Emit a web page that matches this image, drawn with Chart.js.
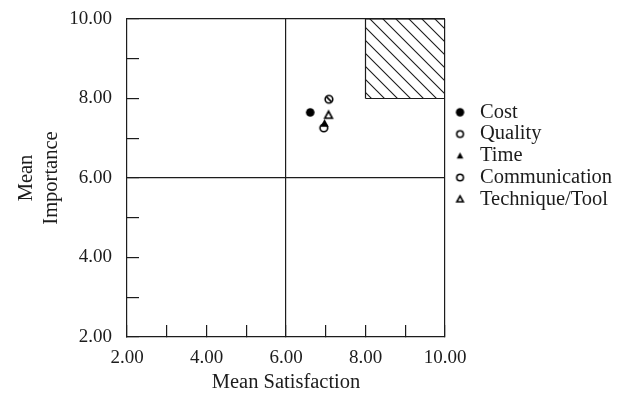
<!DOCTYPE html>
<html>
<head>
<meta charset="utf-8">
<script src="https://cdn.jsdelivr.net/npm/chart.js@4.4.1/dist/chart.umd.min.js"></script>
<style>
    html, body { margin: 0; padding: 0; background: #fff; }
    #wrap { position: relative; width: 629px; height: 397px; }
</style>
</head>
<body>
<div id="wrap"><canvas id="chart"></canvas></div>
<script>
const seriesNames = ["Cost", "Quality", "Time", "Communication", "Technique/Tool"];
const meanSatisfaction = [6.61, 6.95, 6.97, 7.08, 7.07];
const meanImportance = [7.65, 7.26, 7.37, 7.98, 7.58];
const markerKinds = ["dot", "ring", "tri", "ringSlash", "triOpen"];

const labelledTicks = [2, 4, 6, 8, 10];
const tickLabels = ["2.00", "4.00", "6.00", "8.00", "10.00"];
const crossLines = [6, 10];

// shaded "target" corner of the quadrant chart
const targetX = [8, 8, 10, 10];
const targetY = [8, 10, 10, 8];
const targetBaseX = [8, 10];
const targetBaseY = [8, 8];

const INK = "#1c1c1c";
const FONT = "'Liberation Serif', 'Times New Roman', serif";

function makeMarker(kind, r, shift) {
    const size = Math.ceil((r + 2 + Math.abs(shift)) * 2);
    const c = document.createElement("canvas");
    c.width = size;
    c.height = size;
    const ctx = c.getContext("2d");
    const cx = size / 2 + shift;
    const cy = size / 2;
    ctx.strokeStyle = "#000";
    ctx.fillStyle = "#000";
    ctx.lineWidth = 1.6;
    ctx.beginPath();
    if (kind === "tri" || kind === "triOpen") {
        ctx.moveTo(cx, cy - r);
        ctx.lineTo(cx + r * 0.95, cy + r * 0.75);
        ctx.lineTo(cx - r * 0.95, cy + r * 0.75);
        ctx.closePath();
    } else {
        ctx.arc(cx, cy, r, 0, Math.PI * 2);
    }
    if (kind === "dot" || kind === "tri") ctx.fill();
    else ctx.stroke();
    if (kind === "ringSlash") {
        ctx.beginPath();
        ctx.moveTo(cx - r * 0.7, cy - r * 0.7);
        ctx.lineTo(cx + r * 0.7, cy + r * 0.7);
        ctx.stroke();
    }
    return c;
}

function makeHatch() {
    const s = 13;
    const c = document.createElement("canvas");
    c.width = s;
    c.height = s;
    const ctx = c.getContext("2d");
    ctx.strokeStyle = INK;
    ctx.lineWidth = 1.1;
    ctx.beginPath();
    ctx.moveTo(0, 0);
    ctx.lineTo(s, s);
    ctx.moveTo(-2, s - 2);
    ctx.lineTo(2, s + 2);
    ctx.moveTo(s - 2, -2);
    ctx.lineTo(s + 2, 2);
    ctx.stroke();
    return document.createElement("canvas").getContext("2d").createPattern(c, "repeat");
}

const dataRadius = [4.3, 3.8, 4.4, 3.8, 4];
const legendRadius = [4.2, 3.3, 3.5, 3.3, 3.4];
const dataMarkers = markerKinds.map((k, i) => makeMarker(k, dataRadius[i], 0));
const legendMarkers = markerKinds.map((k, i) =>
    makeMarker(k === "ringSlash" ? "ring" : k, legendRadius[i], 2)
);

const pointSets = seriesNames.map((name, i) => ({
    label: name,
    data: [{ x: meanSatisfaction[i], y: meanImportance[i] }],
    pointStyle: dataMarkers[i],
    pointRadius: 4,
    order: i,
}));

const tickLabel = (v) => {
    const k = labelledTicks.indexOf(v);
    return k < 0 ? "" : tickLabels[k];
};
const gridColor = (ctx) =>
    ctx.tick && crossLines.includes(ctx.tick.value) ? INK : "rgba(0,0,0,0)";

const axisBase = {
    type: "linear",
    min: 2,
    max: 10,
    border: { display: true, color: INK, width: 1.2 },
    grid: {
        color: gridColor,
        tickColor: INK,
        lineWidth: 1.2,
        tickWidth: 1.2,
        tickLength: -12,
    },
};

const chart = new Chart(document.getElementById("chart"), {
    type: "scatter",
    data: {
        datasets: [
            ...pointSets,
            {
                type: "line",
                label: "target",
                data: targetX.map((x, i) => ({ x, y: targetY[i] })),
                borderColor: INK,
                borderWidth: 1.2,
                backgroundColor: makeHatch(),
                fill: { value: 8 },
                pointRadius: 0,
                order: 20,
            },
            {
                type: "line",
                label: "target base",
                data: targetBaseX.map((x, i) => ({ x, y: targetBaseY[i] })),
                borderColor: INK,
                borderWidth: 1.2,
                pointRadius: 0,
                fill: false,
                order: 21,
            },
        ],
    },
    options: {
        responsive: true,
        maintainAspectRatio: false,
        animation: false,
        layout: { padding: { top: 19, right: 6.9, bottom: 0, left: 0 } },
        plugins: {
            tooltip: { enabled: false },
            legend: {
                position: "right",
                align: "start",
                maxWidth: 220,
                title: {
                    display: true,
                    text: "",
                    font: { size: 10 },
                    padding: { top: 69.8, bottom: 0 },
                },
                labels: {
                    usePointStyle: true,
                    pointStyleWidth: 23.5,
                    boxHeight: 8,
                    padding: 1.25,
                    color: INK,
                    font: { family: FONT, size: 20.5 },
                    generateLabels: () =>
                        seriesNames.map((name, i) => ({
                            text: name,
                            datasetIndex: i,
                            pointStyle: legendMarkers[i],
                            fillStyle: INK,
                            strokeStyle: INK,
                            fontColor: INK,
                            lineWidth: 0,
                            hidden: false,
                        })),
                },
            },
        },
        scales: {
            x: {
                ...axisBase,
                position: "bottom",
                afterFit: (s) => {
                    s.height = 60;
                    s.paddingLeft = 0;
                    s.paddingRight = 0;
                },
                ticks: {
                    stepSize: 1,
                    autoSkip: false,
                    maxRotation: 0,
                    padding: 21.5,
                    color: INK,
                    font: { family: FONT, size: 19 },
                    callback: tickLabel,
                },
                title: {
                    display: true,
                    text: "Mean Satisfaction",
                    color: INK,
                    font: { family: FONT, size: 20.5 },
                    padding: { top: 0, bottom: 1.7 },
                },
            },
            y: {
                ...axisBase,
                position: "left",
                afterFit: (s) => {
                    s.width = 127;
                    s.paddingTop = 0;
                    s.paddingBottom = 0;
                },
                ticks: {
                    stepSize: 1,
                    autoSkip: false,
                    padding: 27,
                    color: INK,
                    font: { family: FONT, size: 19 },
                    callback: tickLabel,
                },
                title: {
                    display: true,
                    text: ["Mean", "Importance"],
                    color: INK,
                    font: { family: FONT, size: 20.5 },
                    padding: { top: 14.7, bottom: 0 },
                },
            },
        },
    },
});
</script>
</body>
</html>
